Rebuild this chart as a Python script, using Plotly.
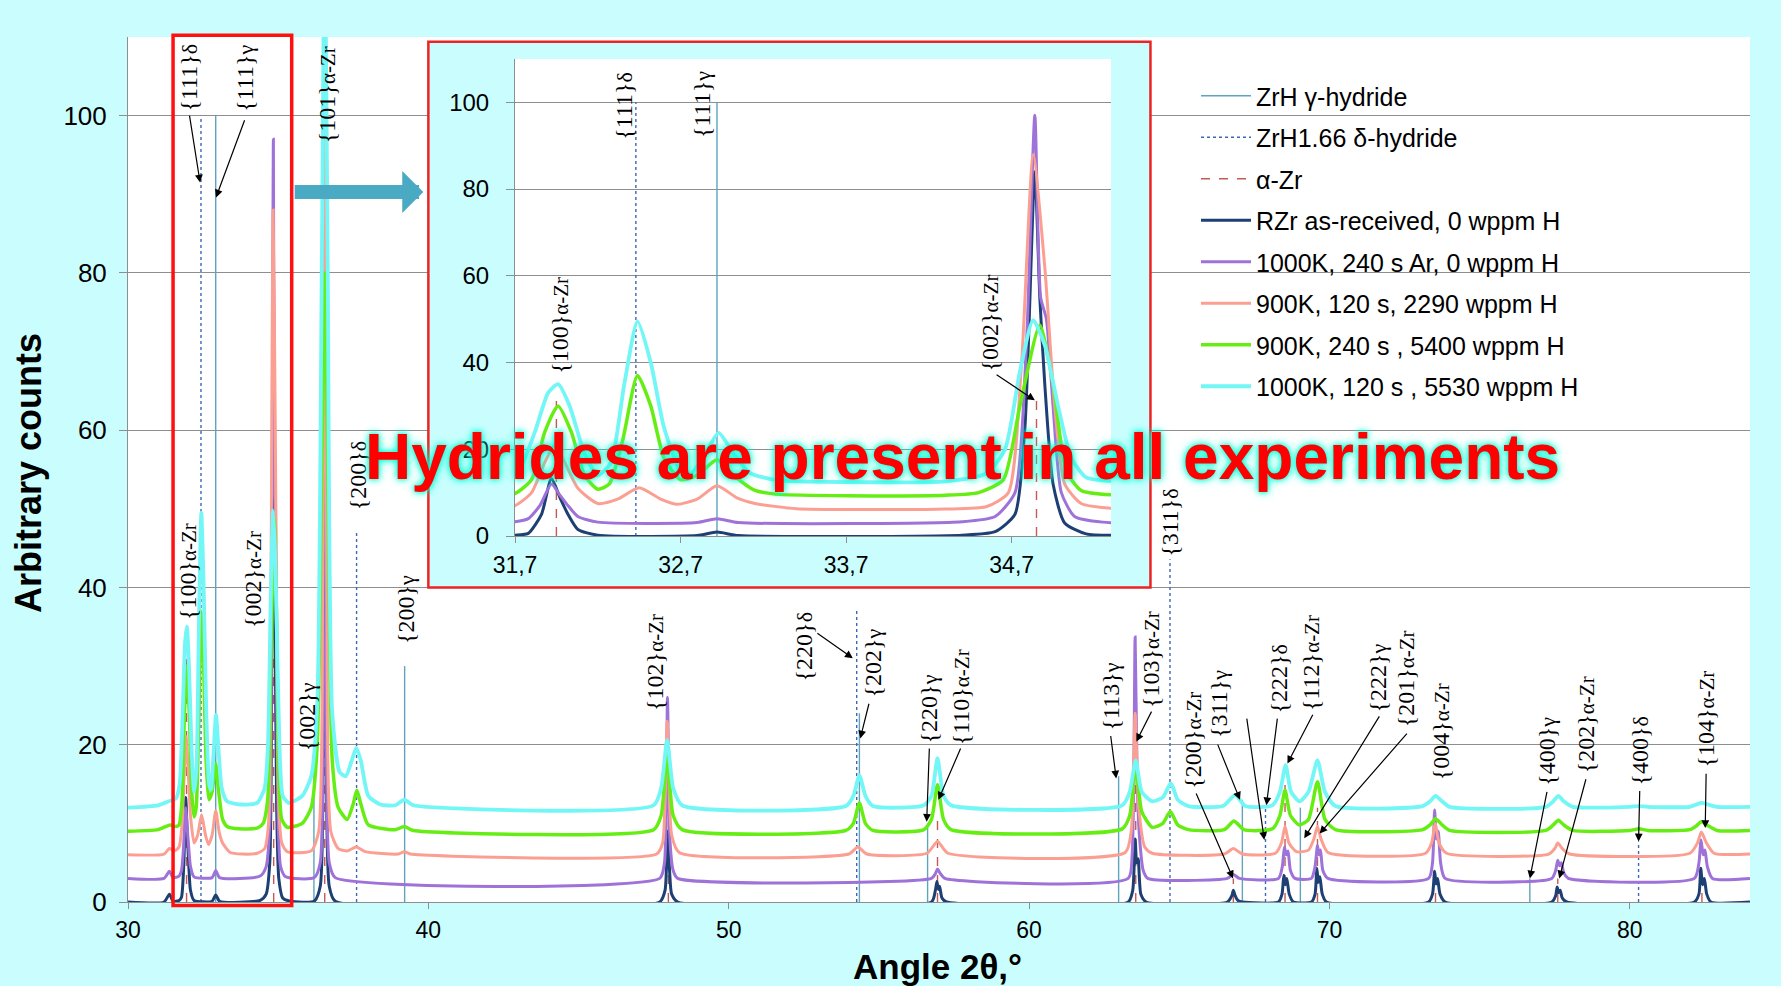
import plotly.graph_objects as go

# ---------------- data ----------------
SERIES_NAMES = ["RZr as-received, 0 wppm H", "1000K, 240 s Ar, 0 wppm H",
                "900K, 120 s, 2290 wppm H", "900K, 240 s , 5400 wppm H",
                "1000K, 120 s , 5530 wppm H"]
SERIES_COLORS = ["#1d3f74", "#9e72d8", "#fb9f92", "#66ee14", "#72f6f6"]
SERIES_WIDTHS = [3, 3, 3, 3.5, 3.8]

RZR_PTS = [(30,0),(31.2,0),(31.38,1.0),(31.5,0.1),(31.7,0.2),(31.78,0.6),(31.86,5),(31.92,13.3),(31.97,9),(32.02,5),(32.08,1.5),(32.2,0.2),(32.8,0.1),(32.92,0.9),(33.05,0.1),(34.4,0.2),(34.6,1.0),(34.72,5),(34.78,25),(34.84,84),(34.87,55),(34.9,35),(34.95,12),(35.02,3),(35.15,0.5),(35.4,0.1),(36.2,0.1),(36.4,2),(36.5,40),(36.55,105),(36.6,40),(36.7,2),(36.9,0.1),(47.7,0),(47.88,1.5),(47.96,9),(48.03,4),(48.1,1),(48.3,0),(56.75,0),(56.88,1.5),(56.93,2.6),(56.98,1.6),(57.02,2.0),(57.1,0.5),(57.25,0),(63.3,0),(63.45,1.5),(63.53,8),(63.58,5),(63.63,5.5),(63.72,1),(63.9,0),(66.6,0),(66.75,0.8),(66.8,1.5),(66.85,0.9),(66.95,0.2),(67.1,0),(68.3,0),(68.42,1),(68.48,3.4),(68.53,2.2),(68.58,3.0),(68.66,1),(68.8,0),(69.4,0),(69.52,1),(69.58,4.3),(69.63,2.5),(69.68,3.2),(69.76,1),(69.9,0),(73.3,0),(73.43,1),(73.5,3.9),(73.55,2.3),(73.6,3.0),(73.68,1),(73.85,0),(77.4,0),(77.53,0.8),(77.58,1.9),(77.63,1.2),(77.68,1.5),(77.75,0.5),(77.9,0),(82.15,0),(82.3,1),(82.36,4.3),(82.42,2.2),(82.48,3.0),(82.56,1),(82.7,0),(84,0)]

AR_PTS = [(30,3),(31.2,3),(31.38,3.9),(31.5,3.1),(31.7,3.3),(31.78,4),(31.85,7),(31.92,12),(31.97,9.5),(32.02,7),(32.08,4.5),(32.2,3.2),(32.8,3.1),(32.92,4.0),(33.05,3.1),(34.4,3.3),(34.6,4.5),(34.72,10),(34.79,45),(34.84,97),(34.875,55),(34.91,50),(34.95,30),(35.0,10),(35.08,4.5),(35.25,3.2),(36.2,3.1),(36.4,5),(36.5,45),(36.55,118),(36.6,45),(36.7,5),(36.9,3.1),(47.7,3),(47.86,5),(47.96,26),(48.04,8),(48.15,4),(48.3,3),(56.75,3),(56.88,3.6),(56.95,4.2),(57.03,3.7),(57.2,3),(63.3,3),(63.43,6),(63.53,33.7),(63.6,15),(63.68,8),(63.8,4),(63.95,3),(66.6,3),(66.8,3.5),(67.0,3),(68.3,3),(68.43,4.5),(68.5,7.0),(68.56,6),(68.62,6.5),(68.7,4),(68.85,3),(69.4,3),(69.52,4.5),(69.6,7.2),(69.65,6),(69.7,6.6),(69.78,4),(69.95,3),(73.3,3),(73.43,5),(73.5,11.7),(73.56,8),(73.62,9),(73.7,5),(73.85,3),(77.4,3),(77.53,4),(77.6,5.3),(77.66,4.6),(77.72,5),(77.8,3.7),(77.95,3),(82.15,3),(82.3,5),(82.37,7.9),(82.44,6),(82.5,6.6),(82.58,4.5),(82.75,3),(84,3)]

H2290_PTS = [(30,6),(31.2,6.1),(31.38,6.8),(31.55,6.5),(31.7,7),(31.8,10),(31.88,17),(31.94,21),(32.0,17),(32.08,11),(32.2,7.5),(32.32,8.5),(32.45,11.1),(32.58,8.5),(32.68,7.3),(32.8,8.5),(32.92,11.6),(33.04,8.8),(33.15,7.5),(33.4,6.3),(33.8,6.1),(34.3,6.2),(34.55,6.8),(34.68,10),(34.76,40),(34.83,88),(34.9,62),(34.96,30),(35.02,12),(35.12,7.5),(35.3,6.4),(36.1,6.5),(36.35,9),(36.48,40),(36.55,100),(36.62,40),(36.75,9),(37.0,6.8),(37.3,6.5),(37.6,7.0),(37.9,6.4),(39.0,6.1),(39.2,6.4),(39.4,6.1),(47.6,6.1),(47.8,7.5),(47.95,23),(48.1,8.5),(48.35,6.3),(54.0,6.1),(54.3,7.0),(54.6,6.1),(56.6,6.2),(56.95,7.7),(57.3,6.2),(63.2,6.3),(63.4,9),(63.53,24),(63.65,12),(63.85,7),(64.1,6.2),(66.5,6.1),(66.8,6.8),(67.1,6.1),(68.2,6.2),(68.4,7.5),(68.52,9.6),(68.65,7.5),(68.9,6.4),(69.3,6.6),(69.48,8),(69.6,9.6),(69.72,8),(69.95,6.3),(73.2,6.2),(73.4,7.5),(73.52,10),(73.65,7.5),(73.9,6.2),(77.3,6.1),(77.5,6.8),(77.6,7.5),(77.75,6.8),(78.0,6.1),(82.0,6.2),(82.25,7.5),(82.38,8.9),(82.55,7.5),(82.8,6.2),(84,6.1)]

H5400_PTS = [(30,9),(31.0,9.2),(31.4,9.8),(31.6,9.6),(31.7,9.8),(31.8,13),(31.88,24),(31.96,30),(32.04,24),(32.12,14),(32.2,10.8),(32.27,12),(32.35,22),(32.44,37),(32.52,30),(32.6,18),(32.7,13),(32.8,14),(32.92,17.6),(33.02,14),(33.15,10.5),(33.3,9.6),(33.7,9.3),(34.3,9.4),(34.5,10),(34.65,13),(34.75,30),(34.87,48.6),(34.95,35),(35.03,15),(35.12,10.5),(35.3,9.5),(35.8,10),(36.1,12),(36.3,20),(36.45,55),(36.55,80),(36.65,55),(36.8,18),(37.0,12),(37.3,10.5),(37.5,12.5),(37.62,14.2),(37.75,12.5),(38.0,9.8),(38.9,9.2),(39.2,9.6),(39.5,9.1),(47.5,9.2),(47.75,11),(47.95,18.5),(48.15,11),(48.45,9.2),(53.9,9.1),(54.15,10),(54.35,12.6),(54.55,10),(54.8,9.1),(56.5,9.2),(56.75,10.5),(56.95,14.9),(57.15,10.5),(57.4,9.2),(63.1,9.3),(63.35,11),(63.55,17.5),(63.75,11.5),(64.1,9.5),(64.45,10),(64.7,11.5),(64.95,9.8),(65.3,9.2),(66.5,9.2),(66.82,10.3),(67.15,9.2),(68.1,9.3),(68.35,11),(68.52,14.2),(68.7,11),(69.0,9.8),(69.3,10.5),(69.6,15.3),(69.85,10.5),(70.2,9.2),(73.1,9.2),(73.35,9.8),(73.53,10.6),(73.75,9.8),(74.0,9.1),(77.2,9.1),(77.45,9.8),(77.62,10.4),(77.8,9.8),(78.1,9.1),(80.0,9.1),(80.3,9.3),(80.6,9.1),(82.0,9.2),(82.22,9.7),(82.38,10.2),(82.6,9.7),(82.9,9.1),(84,9.1)]

H5530_PTS = [(30,12),(31.0,12.3),(31.35,12.8),(31.6,13.2),(31.72,15),(31.82,24),(31.9,33),(31.96,35),(32.03,30),(32.12,19),(32.2,14),(32.28,17),(32.36,35),(32.44,49.5),(32.52,40),(32.6,25),(32.7,15),(32.76,14.3),(32.85,19),(32.93,23.8),(33.02,19),(33.12,14.5),(33.3,12.8),(33.8,12.4),(34.3,12.6),(34.55,14.5),(34.66,20),(34.75,38),(34.83,49.8),(34.9,44),(34.98,30),(35.06,18),(35.15,13.5),(35.35,12.6),(35.8,13.5),(36.1,16),(36.3,25),(36.45,80),(36.55,125),(36.65,80),(36.8,24),(37.05,16.5),(37.25,16),(37.45,18),(37.6,19.6),(37.75,18),(38.0,13.5),(38.4,12.4),(38.9,12.3),(39.2,13.0),(39.5,12.3),(47.5,12.3),(47.75,14.5),(47.95,20.6),(48.15,14.5),(48.45,12.3),(53.9,12.2),(54.15,13.5),(54.35,16.1),(54.55,13.5),(54.8,12.2),(56.5,12.3),(56.75,13.5),(56.95,18.3),(57.15,13.5),(57.4,12.3),(63.1,12.3),(63.35,14),(63.55,18),(63.75,14),(64.1,12.8),(64.45,13.3),(64.72,15.1),(64.95,13),(65.3,12.2),(66.45,12.2),(66.86,13.6),(67.2,12.2),(68.1,12.3),(68.35,14),(68.54,17.4),(68.72,14),(69.0,12.8),(69.3,14),(69.6,18),(69.85,14),(70.2,12.2),(73.1,12.2),(73.35,12.8),(73.53,13.5),(73.75,12.8),(74.0,12.1),(77.2,12.1),(77.45,12.8),(77.62,13.5),(77.8,12.8),(78.1,12.1),(80.0,12.1),(80.3,12.2),(80.6,12.1),(82.0,12.1),(82.22,12.4),(82.38,12.6),(82.6,12.4),(82.9,12.1),(84,12.1)]

SERIES_PTS = [RZR_PTS, AR_PTS, H2290_PTS, H5400_PTS, H5530_PTS]

# reference stick patterns (position, relative intensity)
GAMMA_POS = [32.92, 36.19, 39.21, 54.35, 56.62, 62.98, 67.10, 69.03, 76.67]
GAMMA_INT = [100, 18, 30, 24, 10, 16, 13, 12, 3]
DELTA_POS = [32.43, 37.61, 54.26, 64.69, 67.87, 80.29]
DELTA_INT = [100, 47, 37, 43.6, 12, 7.7]
ALPHA_POS = [31.95, 34.85, 36.55, 47.99, 56.95, 63.55, 66.80, 68.52, 69.60, 73.53, 77.60, 82.40]
ALPHA_INT = [33, 32, 100, 17, 11, 18, 3, 15, 12, 3, 3, 3]

REF_NAMES = ["ZrH γ-hydride", "ZrH1.66 δ-hydride", "α-Zr"]

# peak labels on the main chart: text, x, y of label start
MAIN_LABELS = [("{111}δ", 32.04, 100.3), ("{111}γ", 33.87, 100.2), ("{101}α-Zr", 36.63, 96.2),
               ("{100}α-Zr", 31.98, 35.6), ("{002}α-Zr", 34.18, 34.6), ("{002}γ", 35.94, 18.9),
               ("{200}δ", 37.66, 49.5), ("{200}γ", 39.25, 32.6), ("{102}α-Zr", 47.55, 24.0),
               ("{220}δ", 52.49, 27.8), ("{202}γ", 54.81, 25.7), ("{220}γ", 56.68, 19.9),
               ("{110}α-Zr", 57.74, 19.7), ("{113}γ", 62.71, 21.5), ("{103}α-Zr", 64.04, 24.4),
               ("{311}δ", 64.69, 43.7), ("{200}α-Zr", 65.45, 14.2), ("{311}γ", 66.32, 20.6),
               ("{222}δ", 68.33, 23.7), ("{112}α-Zr", 69.41, 24.0), ("{222}γ", 71.62, 23.8),
               ("{201}α-Zr", 72.55, 21.9), ("{004}α-Zr", 73.72, 15.2), ("{400}γ", 77.25, 14.5),
               ("{202}α-Zr", 78.55, 16.1), ("{400}δ", 80.33, 14.6), ("{104}α-Zr", 82.54, 16.8)]
# pointer arrows: tail x, tail y, head x, head y
MAIN_ARROWS = [(32.04, 100.2, 32.40, 91.5), (33.90, 99.6, 32.93, 89.6), (52.90, 34.3, 54.13, 31.0),
               (54.68, 25.4, 54.38, 20.8), (56.68, 19.7, 56.59, 10.2), (57.74, 19.7, 56.98, 13.0),
               (62.71, 21.3, 62.90, 15.7), (64.10, 24.4, 63.57, 20.4), (65.54, 14.0, 66.79, 3.0),
               (66.26, 20.2, 67.02, 13.0), (67.24, 23.5, 67.83, 7.9), (68.27, 23.5, 67.90, 12.3),
               (69.47, 24.0, 68.60, 17.6), (71.69, 23.8, 69.16, 8.1), (72.62, 21.6, 69.67, 8.7),
               (77.25, 14.2, 76.67, 3.0), (78.55, 15.8, 77.65, 3.0), (80.33, 14.3, 80.29, 7.7),
               (82.54, 16.5, 82.51, 9.4)]
INSET_LABELS = [("{100}α-Zr", 31.97, 37.0), ("{111}δ", 32.36, 91.0), ("{111}γ", 32.83, 91.2),
                ("{002}α-Zr", 34.57, 37.4)]
INSET_ARROWS = [(34.60, 37.4, 34.84, 31.3)]
INSET_TICKS = [31.7, 32.7, 33.7, 34.7]
INSET_TICKTEXT = ["31,7", "32,7", "33,7", "34,7"]

# ---------------- figure ----------------
W, H = 1781, 986
ML, MR, MT, MB = 128, 31, 37, 84
PW, PH = W - ML - MR, H - MT - MB

def px_to_paper(px, py):
    return (px - ML) / PW, (H - MB - py) / PH

SANS = "Liberation Sans, Arial, sans-serif"
SERIF = "Liberation Serif, Times New Roman, serif"
BG = "#CAFEFE"
GRID = "#8e8e8e"

fig = go.Figure()

def sticks(pos, hts):
    xs, ys = [], []
    for p, h in zip(pos, hts):
        xs += [p, p, None]
        ys += [0, h, None]
    return xs, ys

REF_DATA = [(GAMMA_POS, GAMMA_INT), (DELTA_POS, DELTA_INT), (ALPHA_POS, ALPHA_INT)]
REF_STYLE = [dict(color="#5fa3bf", width=1.4, dash="solid"),
             dict(color="#3e67b5", width=1.4, dash="dot"),
             dict(color="#c25a58", width=1.4, dash="dash")]

for axes, show in (("xy", True), ("x2y2", False)):
    xa, ya = ("x", "y") if axes == "xy" else ("x2", "y2")
    for name, (pos, hts), st in zip(REF_NAMES, REF_DATA, REF_STYLE):
        xs, ys = sticks(pos, hts)
        fig.add_trace(go.Scatter(x=xs, y=ys, mode="lines", name=name, line=st,
                                 xaxis=xa, yaxis=ya, showlegend=show, legendgroup=name,
                                 hoverinfo="skip"))
    for name, pts, col, wd in zip(SERIES_NAMES, SERIES_PTS, SERIES_COLORS, SERIES_WIDTHS):
        fig.add_trace(go.Scatter(x=[p[0] for p in pts], y=[p[1] for p in pts], mode="lines",
                                 name=name, line=dict(color=col, width=wd, shape="spline", smoothing=0.6),
                                 xaxis=xa, yaxis=ya, showlegend=show, legendgroup=name))

ax0, ay0 = px_to_paper(515, 536)
ax1, ay1 = px_to_paper(1111, 59)

fig.update_layout(
    width=W, height=H,
    margin=dict(l=ML, r=MR, t=MT, b=MB, pad=0),
    paper_bgcolor=BG, plot_bgcolor="white",
    font=dict(family=SANS, color="black"),
    xaxis=dict(domain=[0, 1], range=[30, 84], dtick=10, tick0=30, showgrid=False, zeroline=False,
               showline=True, linecolor=GRID, ticks="outside", ticklen=6, tickcolor=GRID,
               tickfont=dict(size=23, family=SANS), ticklabelstandoff=1, anchor="y"),
    yaxis=dict(domain=[0, 1], range=[0, 110], dtick=20, showgrid=True, gridcolor=GRID, gridwidth=1.3,
               zeroline=False, showline=True, linecolor=GRID, ticks="outside", ticklen=8, tickcolor=GRID,
               tickfont=dict(size=26, family=SANS), ticklabelstandoff=7, anchor="x"),
    xaxis2=dict(domain=[ax0, ax1], range=[31.7, 35.3], tickvals=INSET_TICKS, ticktext=INSET_TICKTEXT,
                showgrid=False, zeroline=False, showline=True, linecolor=GRID, ticks="outside", ticklen=6,
                tickcolor=GRID, tickfont=dict(size=23, family=SANS), ticklabelstandoff=2, anchor="y2"),
    yaxis2=dict(domain=[ay0, ay1], range=[0, 110], dtick=20, showgrid=True, gridcolor=GRID, gridwidth=1.3,
                zeroline=False, showline=True, linecolor=GRID, ticks="outside", ticklen=8, tickcolor=GRID,
                tickfont=dict(size=24, family=SANS), ticklabelstandoff=12, anchor="x2"),
    legend=dict(x=px_to_paper(1196, 0)[0], y=px_to_paper(0, 73)[1], xanchor="left", yanchor="top",
                bgcolor="rgba(0,0,0,0)", font=dict(size=25, family=SANS), itemwidth=50,
                tracegroupgap=6, traceorder="grouped"),
    showlegend=True,
)

# inset frame (cyan with red border) and red highlight box on main chart
fig.add_shape(type="rect", xref="x", yref="y", x0=40.0, x1=64.04, y0=40.0, y1=109.4,
              fillcolor=BG, line=dict(color="#ee2222", width=2.5), layer="between")
fig.add_shape(type="rect", xref="x", yref="paper", x0=31.5, x1=35.45, y0=-0.004, y1=1.002,
              line=dict(color="#ff1010", width=3.5), layer="above")

ann = []
def label(text, x, y, xr, yr):
    if "α-Zr" in text:
        t = text.replace("α-Zr", "<span style='font-size:21px'>α-Zr</span>")
    else:
        t = text[:-1] + "<span style='font-size:22px'>" + text[-1] + "</span>"
    return dict(text=t, x=x, y=y, xref=xr, yref=yr, showarrow=False, textangle=-90,
                xanchor="center", yanchor="bottom", font=dict(family=SERIF, size=24, color="black"))

def arrow(tx, ty, hx, hy, xr, yr):
    return dict(text="", x=hx, y=hy, ax=tx, ay=ty, xref=xr, yref=yr, axref=xr, ayref=yr,
                showarrow=True, arrowhead=2, arrowsize=1.3, arrowwidth=1.2, arrowcolor="black",
                standoff=0, startstandoff=0)

for t, x, y in MAIN_LABELS:
    ann.append(label(t, x, y, "x", "y"))
for a in MAIN_ARROWS:
    ann.append(arrow(*a, "x", "y"))
for t, x, y in INSET_LABELS:
    ann.append(label(t, x, y, "x2", "y2"))
for a in INSET_ARROWS:
    ann.append(arrow(*a, "x2", "y2"))

# big arrow towards the inset
ann.append(dict(text="", x=39.83, y=90.3, ax=35.5, ay=90.3, xref="x", yref="y", axref="x", ayref="y",
                showarrow=True, arrowhead=1, arrowsize=0.5, arrowwidth=14, arrowcolor="#4aaac4",
                standoff=0))

# axis titles
tx, ty = px_to_paper(28, 473)
ann.append(dict(text="<b>Arbitrary counts</b>", x=tx, y=ty, xref="paper", yref="paper", showarrow=False,
                textangle=-90, xanchor="center", yanchor="middle", font=dict(size=36, family=SANS)))
tx, ty = px_to_paper(937, 966)
ann.append(dict(text="<b>Angle 2θ,°</b>", x=tx, y=ty, xref="paper", yref="paper", showarrow=False,
                xanchor="center", yanchor="middle", font=dict(size=35, family=SANS)))

# headline
tx, ty = px_to_paper(962, 457)
ann.append(dict(text="<b>Hydrides are present in all experiments</b>", x=tx, y=ty, xref="paper", yref="paper",
                showarrow=False, xanchor="center", yanchor="middle",
                font=dict(size=64, family=SANS, color="#ff0000",
                          shadow="0px 0px 5px #00ffd5, 0px 0px 10px #00ffd5")))

fig.update_layout(annotations=ann)
fig.write_html("out.html")
